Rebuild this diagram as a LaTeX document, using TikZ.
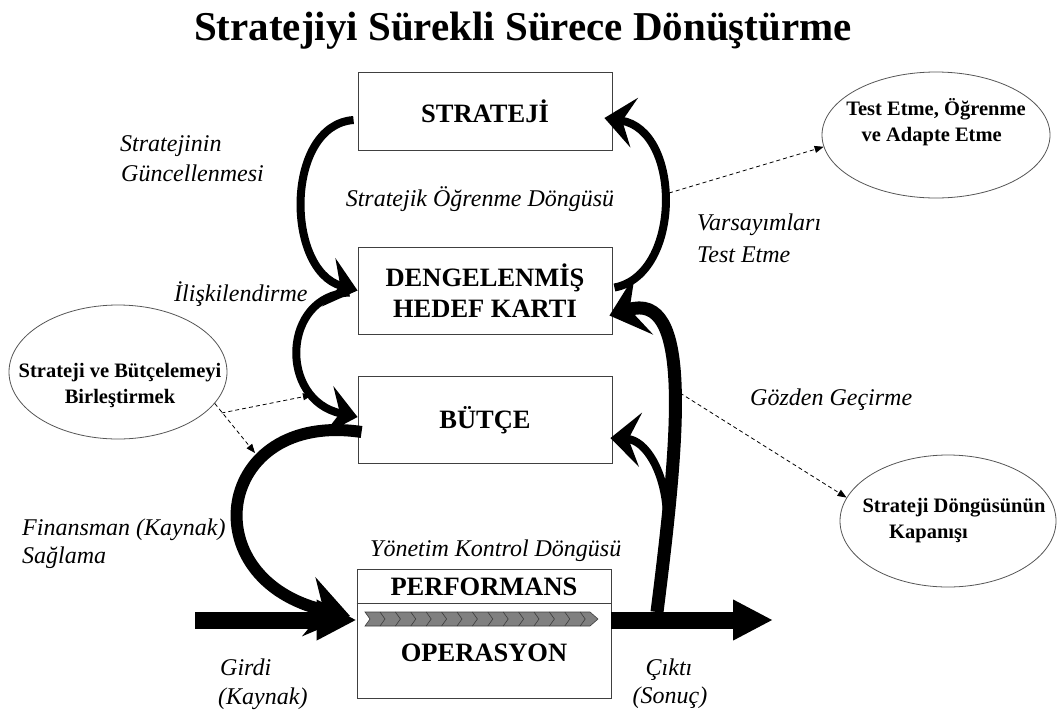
\documentclass[tikz,border=0pt]{standalone}
\usepackage{fontspec}
\setmainfont{Liberation Serif}
\usetikzlibrary{arrows.meta,shapes.geometric,calc}
\definecolor{chev}{HTML}{808080}
\definecolor{chevline}{HTML}{3C3C3C}
\definecolor{rim}{HTML}{555555}

\begin{document}
\begin{tikzpicture}[x=1pt,y=-1pt,
  box/.style={draw=black!75, line width=0.9pt, minimum width=254pt, inner sep=0pt,
    font=\fontsize{26.5}{31}\selectfont\bfseries, align=center},
  oval/.style={draw=rim, line width=0.8pt, ellipse, inner sep=0pt},
  ovaltext/.style={font=\fontsize{20.5}{26}\selectfont\bfseries, inner sep=0pt},
  lbl/.style={font=\fontsize{24}{30}\selectfont\itshape, inner sep=0pt},
  loopline/.style={line width=8pt, -{Stealth[length=30pt,width=50pt,inset=12pt]}},
  dashlink/.style={dash pattern=on 4pt off 3pt, line width=0.8pt,
    -{Triangle[length=9pt,width=7pt]}},
  bigarrow/.style={line width=17pt, -{Triangle[length=40pt,width=38pt]}},
]
\useasboundingbox (0,0) rectangle (1057,713);

% title
\node[inner sep=0pt] (title) at (523,31)
  {\fontsize{41}{48}\selectfont\bfseries Stratejiyi Sürekli Sürece Dönüştürme};

% main boxes
\node[box, minimum height=78pt] (strat) at (485,111) {STRATEJİ};
\node[box, minimum height=87pt] (bsc) at (485,290.5) {DENGELENMİŞ\\HEDEF KARTI};
\node[box, minimum height=87pt] (butce) at (485,420) {BÜTÇE};
\node[box, minimum height=129pt] (perf) at (484,633.5) {};
\draw[black!75, line width=0.9pt] ($(perf.north west)+(0,35)$) -- ($(perf.north east)+(0,35)$);
\node[font=\fontsize{26.5}{31}\selectfont\bfseries, inner sep=0pt] (perftxt) at (484,587) {PERFORMANS};
\node[font=\fontsize{26.5}{31}\selectfont\bfseries, inner sep=0pt] (optxt) at (484,653) {OPERASYON};

% process chevron strip
\draw[chevline, fill=chev, line width=0.6pt]
  (365,612) -- (590,612) -- (598,619) -- (590,626) -- (365,626) -- (370,619) -- cycle;
\foreach \k in {0,...,13} {
  \draw[chevline, line width=0.6pt] ({380+15.4*\k},612) -- ({385+15.4*\k},619) -- ({380+15.4*\k},626);
}

% ellipses
\node[oval, minimum width=228pt, minimum height=126pt] (test) at (936,135) {};
\node[ovaltext, align=left] (testtxt) at (936,122)
  {Test Etme, Öğrenme\\\hspace*{0.75em}ve Adapte Etme};
\node[oval, minimum width=216pt, minimum height=132pt] (kap) at (948,521) {};
\node[ovaltext, align=left] (kaptxt) at (954,521)
  {Strateji Döngüsünün\\\hspace*{1.3em}Kapanışı};
\node[oval, minimum width=218pt, minimum height=134pt] (bud) at (118,372) {};
\node[ovaltext, align=center] (budtxt) at (120,385)
  {Strateji ve Bütçelemeyi\\Birleştirmek};

% input and output
\coordinate (inTail) at (195,620);
\coordinate (outTip) at (773,620);
\draw[bigarrow] (inTail) -- (perf.west|-inTail);
\draw[bigarrow] (perf.east|-outTip) -- (outTip);

% strategic learning loop
\draw[loopline] ($(strat.west)+(-4,9)$) .. controls (285,125) and (285,270) .. (bsc.west);
\draw[loopline] ($(bsc.east)+(2,-3)$) .. controls (682,275) and (682,130) .. ($(strat.east)+(-8,7)$);

% linking scorecard and budget
\draw[loopline] ($(bsc.west)+(-8,2)$) .. controls (282,295) and (278,400) .. ($(butce.west)+(0,-3)$);

% funding
\draw[line width=12pt, -{Stealth[length=42pt,width=60pt,inset=15pt]}]
  ($(butce.west)+(4,12)$) .. controls (215,410) and (190,580) .. (350,616);

% feedback from output
\coordinate (rise) at (657,612);
\coordinate (fork) at (667,515);
\draw[line width=13pt, -{Stealth[length=36pt,width=62pt,inset=15pt]}]
  (rise) .. controls (680,430) and (692,290) .. ($(bsc.east)+(-3,25)$);
\draw[line width=8pt, -{Stealth[length=30pt,width=54pt,inset=12pt]}]
  (fork) .. controls (665,470) and (645,440) .. ($(butce.east)+(-2,18)$);

% dashed links
\coordinate (v1) at (669,193);
\coordinate (g1) at (680,393);
\coordinate (bsplit) at (221.5,413);
\coordinate (bfin) at (255,453);
\draw[dashlink] (v1) -- (test.186);
\draw[dashlink] (g1) -- (kap.167);
\draw[dashlink] (bud.-18) -- (bfin);
\draw[dashlink] (bsplit) -- (312,395);

% labels
\node[lbl, anchor=base west] (l1a) at (120,151) {Stratejinin};
\node[lbl, anchor=base west] (l1b) at (121,181) {Güncellenmesi};
\node[lbl, anchor=base] (l2) at (480,206) {Stratejik Öğrenme Döngüsü};
\node[lbl, anchor=base west] (l3a) at (697,230) {Varsayımları};
\node[lbl, anchor=base west] (l3b) at (697,262) {Test Etme};
\node[lbl, anchor=base west] (l4) at (174,301) {İlişkilendirme};
\node[lbl, anchor=base west] (l5) at (750,405) {Gözden Geçirme};
\node[lbl, anchor=base west] (l6) at (370,556) {Yönetim Kontrol Döngüsü};
\node[lbl, anchor=base west] (l7a) at (22,535) {Finansman (Kaynak)};
\node[lbl, anchor=base west] (l7b) at (22,563) {Sağlama};
\node[lbl, anchor=base west] (l8a) at (220,675) {Girdi};
\node[lbl, anchor=base west] (l8b) at (218,704) {(Kaynak)};
\node[lbl, anchor=base] (l9a) at (669,675) {Çıktı};
\node[lbl, anchor=base] (l9b) at (670,703) {(Sonuç)};
\end{tikzpicture}
\end{document}
